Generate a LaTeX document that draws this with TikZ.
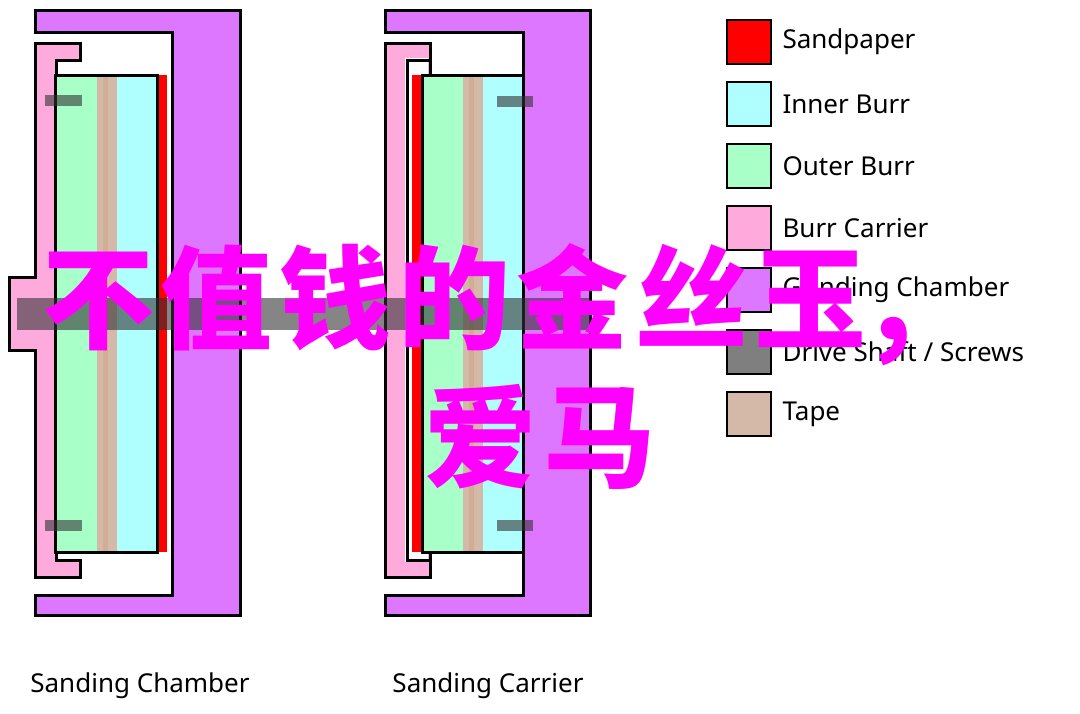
\documentclass[tikz,border=0pt]{standalone}
\usepackage{fontspec}
\setmainfont{Noto Sans}
\newfontfamily\cjk[LetterSpace=6]{Noto Sans CJK SC}
\definecolor{sandpaper}{HTML}{FF0000}
\definecolor{innerburr}{HTML}{AFFFFF}
\definecolor{outerburr}{HTML}{A8FFC8}
\definecolor{carrier}{HTML}{FFAADD}
\definecolor{chamber}{HTML}{DD77FF}
\definecolor{shaft}{HTML}{7F7F7F}
\definecolor{tape}{HTML}{D4B8A8}
\definecolor{wmark}{HTML}{FF00FF}
\tikzset{
  part/.style  = {draw=black, line width=3pt, line join=miter},
  swatch/.style = {draw=black, line width=2pt, minimum width=44pt, minimum height=44pt, inner sep=0pt},
  legtext/.style = {anchor=west, font=\fontsize{26}{30}\selectfont},
  caption/.style = {font=\fontsize{26}{30}\selectfont},
  bar/.style = {fill=black!60!shaft, opacity=0.6}
}
\begin{document}
\begin{tikzpicture}[x=1pt,y=-1pt]
\useasboundingbox (0,0) rectangle (1080,713);
% Sanding Chamber
\filldraw[part, fill=chamber] (35,10) -- (240,10) -- (240,615) -- (35,615) -- (35,595) -- (172,595) -- (172,32) -- (35,32) -- cycle;
\filldraw[part, fill=carrier] (35,43) -- (80,43) -- (80,60) -- (56,60) -- (56,560) -- (80,560) -- (80,577) -- (35,577) -- (35,350) -- (9,350) -- (9,277) -- (35,277) -- cycle;
\fill[outerburr] (55,75) rectangle (97,552);
\fill[tape] (97,75) rectangle (117,552);
\fill[tape!80!brown] (103,75) rectangle (108,552);
\fill[innerburr] (117,75) rectangle (157,552);
\fill[sandpaper] (157,75) rectangle (167,552);
\draw[line width=3pt] (157,75) -- (55,75) -- (55,552) -- (157,552) -- cycle;
\fill[bar] (45,95) rectangle (82,106);
\fill[bar] (45,520) rectangle (82,531);
% Sanding Carrier
\filldraw[part, fill=chamber] (385,10) -- (590,10) -- (590,615) -- (385,615) -- (385,595) -- (523,595) -- (523,32) -- (385,32) -- cycle;
\filldraw[part, fill=carrier] (385,43) -- (430,43) -- (430,577) -- (385,577) -- cycle;
\fill[white] (405,58) rectangle (428,562);
\draw[line width=3pt] (432,60) -- (407,60) -- (407,560) -- (432,560);
\fill[sandpaper] (412,75) rectangle (422,552);
\fill[outerburr] (422,75) rectangle (463,552);
\fill[tape] (463,75) rectangle (483,552);
\fill[tape!80!brown] (469,75) rectangle (474,552);
\fill[innerburr] (483,75) rectangle (523,552);
\draw[line width=3pt] (422,75) rectangle (523,552);
\fill[bar] (497,96) rectangle (533,107);
\fill[bar] (497,520) rectangle (533,531);
% drive shaft
\fill[bar] (17,298) rectangle (590,330);
% captions
\node[caption] (capA) at (140,686) {Sanding Chamber};
\node[caption] (capB) at (488,686) {Sanding Carrier};
% legend
\foreach \col/\txt [count=\i from 0] in {sandpaper/Sandpaper, innerburr/Inner Burr, outerburr/Outer Burr, carrier/Burr Carrier, chamber/Grinding Chamber, shaft/{Drive Shaft / Screws}, tape/Tape} {
  \node[swatch, fill=\col] (sw\i) at (749,42+62*\i) {};
  \node[legtext] (lt\i) at (779,42+62*\i) {\txt};
}
% watermark
\node[wmark, font=\cjk\bfseries\fontsize{112}{116}\selectfont, anchor=west, inner sep=0pt] (wmA) at (42,305) {不值钱的金丝玉,};
\node[wmark, font=\cjk\bfseries\fontsize{112}{116}\selectfont] (wmB) at (540,437) {爱马};
\end{tikzpicture}
\end{document}
